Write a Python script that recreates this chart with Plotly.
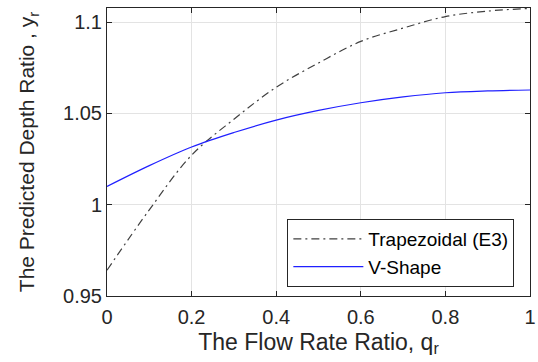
import plotly.graph_objects as go

q = [0.0, 0.1, 0.2, 0.3, 0.4, 0.5, 0.6, 0.7, 0.8, 0.9, 1.0]
trap = [0.9641, 0.9972, 1.0271, 1.0468, 1.0643, 1.0776, 1.0894, 1.0967, 1.1030, 1.1060, 1.1075]
vshape = [1.0100, 1.0214, 1.0316, 1.0395, 1.0463, 1.0516, 1.0558, 1.0590, 1.0613, 1.0623, 1.0628]

x_ticks = [0, 0.2, 0.4, 0.6, 0.8, 1.0]
x_ticklabels = ["0", "0.2", "0.4", "0.6", "0.8", "1"]
y_ticks = [0.95, 1.0, 1.05, 1.1]
y_ticklabels = ["0.95", "1", "1.05", "1.1"]

FONT = "Liberation Sans"

fig = go.Figure()
fig.add_trace(go.Scatter(x=q, y=trap, mode="lines", name="Trapezoidal (E3)",
                         line=dict(color="#404040", width=1.2, dash="8px,4px,2px,4px", shape="spline")))
fig.add_trace(go.Scatter(x=q, y=vshape, mode="lines", name="V-Shape",
                         line=dict(color="#2020ff", width=1.2, shape="spline")))

axis_common = dict(showline=True, linecolor="#262626", linewidth=1, mirror="ticks",
                   ticks="inside", ticklen=5, tickcolor="#262626",
                   showgrid=True, gridcolor="#e3e3e3", gridwidth=1, zeroline=False,
                   ticklabeloverflow="allow",
                   tickfont=dict(family=FONT, size=20, color="#262626"))

fig.update_xaxes(range=[0, 1], tickvals=x_ticks, ticktext=x_ticklabels, ticklabelstandoff=3,
                 title=dict(text="The Flow Rate Ratio, q<sub>r</sub>", font=dict(family=FONT, size=23, color="#262626"), standoff=6),
                 **axis_common)
fig.update_yaxes(range=[0.95, 1.1077], tickvals=y_ticks, ticktext=y_ticklabels,
                 title=dict(text="The Predicted Depth Ratio , y<sub>r</sub>", font=dict(family=FONT, size=21, color="#262626"), standoff=22),
                 **axis_common)

fig.update_layout(width=538, height=362, margin=dict(l=107, r=2, t=8, b=66),
                  paper_bgcolor="white", plot_bgcolor="white",
                  showlegend=True,
                  legend=dict(x=0.963, xanchor="right", y=0.267, yanchor="top",
                              bgcolor="white", bordercolor="#262626", borderwidth=1,
                              font=dict(family=FONT, size=19, color="#000000"),
                              tracegroupgap=0, itemwidth=70))

fig.write_html("out.html")
